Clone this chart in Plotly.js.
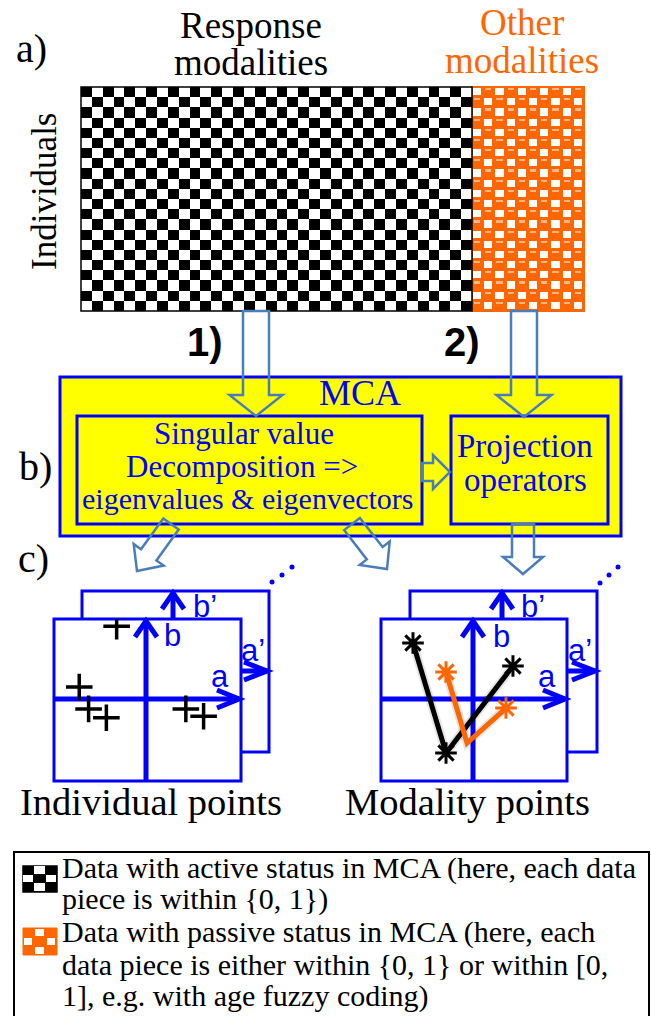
<!DOCTYPE html>
<html><head><meta charset="utf-8">
<script src="https://cdn.plot.ly/plotly-3.0.1.min.js"></script>
<style>html,body{margin:0;padding:0;background:#fff}#chart{width:651px;height:1016px}</style>
</head><body><div id="chart"></div>
<script>
// ---------- data ----------
const responseLabel = ["Response", "modalities"];
const otherLabel = ["Other", "modalities"];
const activeCols = 36, activeRows = 22, passiveCols = 10;
const individualX = [-0.33, -0.73, -0.63, -0.44, 0.41, 0.60];
const individualY = [0.91, 0.16, -0.11, -0.22, -0.11, -0.20];
const activeModX = [-0.656, -0.301, 0.419];
const activeModY = [0.704, -0.654, 0.420];
const passiveModX = [-0.301, -0.075, 0.344];
const passiveModY = [0.346, -0.531, -0.099];
const svdLines = ["Singular value", "Decomposition =>", "eigenvalues & eigenvectors"];
const projLines = ["Projection", "operators"];
const panelTitles = ["Individual points", "Modality points"];
const legendLines = [
  "Data with active status in MCA (here, each data",
  "piece is within {0, 1})",
  "Data with passive status in MCA (here, each",
  "data piece is either within {0, 1} or within [0,",
  "1], e.g. with age fuzzy coding)"
];

// ---------- helpers ----------
const W = 651, H = 1016;
const BLUE = '#0000FF', ORANGE = '#FF6600', ARROW = '#4A7EBB', SERIF = 'Liberation Serif';
const SANS = 'Liberation Sans';
function checker(rows, cols, on, off) {
  const z = [];
  for (let r = 0; r < rows; r++) { const row = []; for (let c = 0; c < cols; c++) row.push((r + c) % 2 === 0 ? on : off); z.push(row); }
  return z;
}
function blockArrow(s, t, sw, hw, hl) {
  const dx = t[0] - s[0], dy = t[1] - s[1], L = Math.hypot(dx, dy);
  const ux = dx / L, uy = dy / L, nx = -uy, ny = ux;
  const bx = t[0] - ux * hl, by = t[1] - uy * hl;
  const p = [[s[0] + nx * sw / 2, s[1] + ny * sw / 2], [bx + nx * sw / 2, by + ny * sw / 2], [bx + nx * hw / 2, by + ny * hw / 2], t,
    [bx - nx * hw / 2, by - ny * hw / 2], [bx - nx * sw / 2, by - ny * sw / 2], [s[0] - nx * sw / 2, s[1] - ny * sw / 2]];
  return 'M' + p.map(q => q[0].toFixed(1) + ',' + q[1].toFixed(1)).join('L') + 'Z';
}
const shapes = [];
function rect(x0, y0, x1, y1, line, lw, fill, layer) {
  shapes.push({type: 'rect', xref: 'x', yref: 'y', x0, y0, x1, y1, line: {color: line, width: lw}, fillcolor: fill || 'rgba(0,0,0,0)', layer: layer || 'below'});
}
function path(d, color, lw, layer) {
  shapes.push({type: 'path', xref: 'x', yref: 'y', path: d, line: {color, width: lw}, fillcolor: 'rgba(0,0,0,0)', layer: layer || 'below'});
}
const ann = [];
function txt(text, x, y, size, color, opts) {
  ann.push(Object.assign({text, x, y, xref: 'x', yref: 'y', showarrow: false, xanchor: 'center', yanchor: 'middle',
    font: {family: SERIF, size, color: color || 'black'}}, opts || {}));
}

// ---------- matrix ----------
const mat = {x0: 81, x1: 472, x2: 584, y0: 87, y1: 311};
const cw = (mat.x1 - mat.x0) / activeCols, ch = (mat.y1 - mat.y0) / activeRows;
rect(mat.x1, mat.y0, mat.x2, mat.y1, ORANGE, 2, ORANGE, 'below');
const traces = [];
traces.push({type: 'heatmap', z: checker(activeRows, activeCols, 1, 0), x0: mat.x0 + cw / 2, dx: cw, y0: mat.y0 + ch / 2, dy: ch,
  colorscale: [[0, 'white'], [1, 'black']], zmin: 0, zmax: 1, showscale: false, zsmooth: false, hoverinfo: 'skip', xaxis: 'x', yaxis: 'y'});
const pw = (mat.x2 - mat.x1) / passiveCols;
traces.push({type: 'heatmap', z: checker(activeRows, passiveCols, 1, null), x0: mat.x1 + pw / 2, dx: pw, y0: mat.y0 + ch / 2, dy: ch,
  colorscale: [[0, 'white'], [1, 'white']], zmin: 0, zmax: 1, showscale: false, zsmooth: false, xgap: 3, ygap: 3, hoverinfo: 'skip'});
traces.push({type: 'heatmap', z: checker(activeRows, passiveCols, null, 1), x0: mat.x1 + pw / 2, dx: pw, y0: mat.y0 + ch / 2 - 3, dy: ch,
  colorscale: [[0, '#FFB685'], [1, '#FFB685']], zmin: 0, zmax: 1, showscale: false, zsmooth: false, xgap: 5, ygap: 8, hoverinfo: 'skip'});
rect(mat.x0, mat.y0, mat.x1, mat.y1, 'black', 1.5, null, 'above');

// ---------- MCA boxes ----------
rect(60, 377, 621, 536, BLUE, 3, '#FFFF00', 'below');
rect(77, 416, 422, 524, BLUE, 3, null, 'below');
rect(451, 416, 608, 524, BLUE, 3, null, 'below');

// ---------- block arrows ----------
path(blockArrow([256, 311], [256, 416], 26, 53, 21), ARROW, 2.5, 'above');
path(blockArrow([524, 311], [524, 417], 26, 55, 22), ARROW, 2.5, 'above');
path(blockArrow([422, 472], [450, 472], 18, 34, 17), ARROW, 2.5, 'above');
path(blockArrow([523, 524], [523, 574], 22, 40, 17), ARROW, 2.5, 'above');
path(blockArrow([171, 524], [137, 571], 19, 37, 20), ARROW, 2.5, 'above');
path(blockArrow([352, 524], [387, 569], 20, 38, 20), ARROW, 2.5, 'above');

// ---------- panels ----------
const panels = [
  {front: [54, 619, 241, 781], back: [82, 591, 269, 752], ox: 146, oy: 699, bx: 173, ay: 671, dots: [[272, 582], [282, 575], [292, 567]]},
  {front: [381, 619, 567, 781], back: [410, 591, 597, 752], ox: 473, oy: 699, bx: 502, ay: 671, dots: [[600, 583], [609, 575], [618, 567]]}
];
panels.forEach(p => {
  const [fl, ft, fr, fb] = p.front, [bl, bt, br, bb] = p.back;
  rect(bl, bt, br, bb, BLUE, 3, 'white');
  rect(fl, ft, fr, fb, BLUE, 3, 'white');
  path(`M${p.ox},${fb}L${p.ox},${ft + 2}`, BLUE, 5);
  path(`M${p.ox - 11},${ft + 18}L${p.ox},${ft + 2}L${p.ox + 11},${ft + 18}`, BLUE, 5);
  path(`M${fl},${p.oy}L${fr - 2},${p.oy}`, BLUE, 5);
  path(`M${fr - 24},${p.oy - 9}L${fr - 2},${p.oy}L${fr - 24},${p.oy + 9}`, BLUE, 5);
  path(`M${p.bx},${ft}L${p.bx},${bt + 2}`, BLUE, 5);
  path(`M${p.bx - 11},${bt + 18}L${p.bx},${bt + 2}L${p.bx + 11},${bt + 18}`, BLUE, 5);
  path(`M${fr},${p.ay}L${br - 2},${p.ay}`, BLUE, 5);
  path(`M${br - 25},${p.ay - 9}L${br - 2},${p.ay}L${br - 25},${p.ay + 9}`, BLUE, 5);
  traces.push({type: 'scatter', mode: 'markers', x: p.dots.map(d => d[0]), y: p.dots.map(d => d[1]), marker: {color: BLUE, size: 5}, hoverinfo: 'skip'});
});

// panel data traces
traces.push({type: 'scatter', mode: 'markers', x: individualX, y: individualY, xaxis: 'x2', yaxis: 'y2',
  marker: {symbol: 'cross-thin-open', size: 19, color: 'black', line: {color: 'black', width: 3.5}}, hoverinfo: 'skip'});
[activeModX, passiveModX].forEach((xs, i) => {
  const ys = i === 0 ? activeModY : passiveModY;
  traces.push({type: 'scatter', mode: 'lines', x: xs, y: ys, xaxis: 'x3', yaxis: 'y3', line: {color: 'rgba(0,0,0,0.10)', width: 9}, hoverinfo: 'skip'});
});
traces.push({type: 'scatter', mode: 'lines', x: activeModX, y: activeModY, xaxis: 'x3', yaxis: 'y3', line: {color: 'black', width: 5}, hoverinfo: 'skip'});
traces.push({type: 'scatter', mode: 'lines', x: passiveModX, y: passiveModY, xaxis: 'x3', yaxis: 'y3', line: {color: ORANGE, width: 5}, hoverinfo: 'skip'});
traces.push({type: 'scatter', mode: 'markers', x: activeModX, y: activeModY, xaxis: 'x3', yaxis: 'y3',
  marker: {symbol: 'asterisk-open', size: 18, color: 'black', line: {color: 'black', width: 3}}, hoverinfo: 'skip'});
traces.push({type: 'scatter', mode: 'markers', x: [passiveModX[0], passiveModX[2]], y: [passiveModY[0], passiveModY[2]], xaxis: 'x3', yaxis: 'y3',
  marker: {symbol: 'asterisk-open', size: 18, color: ORANGE, line: {color: ORANGE, width: 3}}, hoverinfo: 'skip'});

// ---------- legend ----------
rect(14, 852, 649, 1040, 'black', 2, null, 'below');
rect(23, 866, 57, 892, 'black', 1.5, 'black', 'below');
traces.push({type: 'heatmap', z: checker(3, 3, null, 1), x0: 23 + 17 / 3, dx: 34 / 3, y0: 866 + 26 / 6, dy: 26 / 3, colorscale: [[0, 'white'], [1, 'white']],
  zmin: 0, zmax: 1, showscale: false, zsmooth: false, xgap: 1, ygap: 1, hoverinfo: 'skip'});
rect(23, 928, 57, 955, ORANGE, 1, ORANGE, 'below');
traces.push({type: 'heatmap', z: checker(3, 3, null, 1), x0: 23 + 17 / 3, dx: 34 / 3, y0: 928 + 4.5, dy: 9, colorscale: [[0, 'white'], [1, 'white']],
  zmin: 0, zmax: 1, showscale: false, zsmooth: false, xgap: 3, ygap: 2, hoverinfo: 'skip'});
const legendY = [868, 899, 932, 964, 996];
legendLines.forEach((l, i) => txt(l, 60, legendY[i], 30, 'black', {xanchor: 'left'}));

// ---------- texts ----------
txt('a)', 31, 48, 40);
txt(responseLabel[0], 251, 25, 37);
txt(responseLabel[1], 251, 62, 37);
txt(otherLabel[0], 522, 22, 37, ORANGE);
txt(otherLabel[1], 522, 60, 37, ORANGE);
txt('Individuals', 44, 192, 35, 'black', {textangle: -90});
const boldFont = {family: SANS, size: 40, color: 'black', weight: 'bold'};
txt('1)', 205, 342, 40, 'black', {font: boldFont});
txt('2)', 462, 342, 40, 'black', {font: boldFont});
txt('MCA', 360, 393, 36, BLUE);
txt('b)', 35, 466, 40);
txt(svdLines[0], 244, 433, 31, BLUE);
txt(svdLines[1], 242, 466, 31, BLUE);
txt(svdLines[2], 248, 498, 30, BLUE);
txt(projLines[0], 525, 446, 33, BLUE);
txt(projLines[1], 525, 480, 33, BLUE);
txt('c)', 33, 558, 40);
txt(panelTitles[0], 151, 802, 38.5);
txt(panelTitles[1], 467, 802, 38.5);
[[172, 635, 'b'], [220, 676, 'a'], [205, 606, 'b’'], [253, 650, 'a’'], [501, 636, 'b'], [547, 676, 'a'], [533, 606, 'b’'], [580, 650, 'a’']]
  .forEach(l => txt(l[2], l[0], l[1], 31, BLUE, {font: {family: SANS, size: 31, color: BLUE}}));

// ---------- layout ----------
const hid = {visible: false, fixedrange: true, showgrid: false, zeroline: false};
const fp = panels.map(p => p.front);
const layout = {
  width: W, height: H, margin: {l: 0, r: 0, t: 0, b: 0}, paper_bgcolor: 'white', plot_bgcolor: 'rgba(0,0,0,0)', showlegend: false,
  xaxis: Object.assign({range: [0, W], domain: [0, 1]}, hid),
  yaxis: Object.assign({range: [H, 0], domain: [0, 1]}, hid),
  xaxis2: Object.assign({range: [-1, 1], domain: [fp[0][0] / W, fp[0][2] / W], anchor: 'y2'}, hid),
  yaxis2: Object.assign({range: [-1, 1], domain: [(H - fp[0][3]) / H, (H - fp[0][1]) / H], anchor: 'x2'}, hid),
  xaxis3: Object.assign({range: [-1, 1], domain: [fp[1][0] / W, fp[1][2] / W], anchor: 'y3'}, hid),
  yaxis3: Object.assign({range: [-1, 1], domain: [(H - fp[1][3]) / H, (H - fp[1][1]) / H], anchor: 'x3'}, hid),
  shapes, annotations: ann
};
Plotly.newPlot('chart', traces, layout, {staticPlot: true, displayModeBar: false});
</script></body></html>
